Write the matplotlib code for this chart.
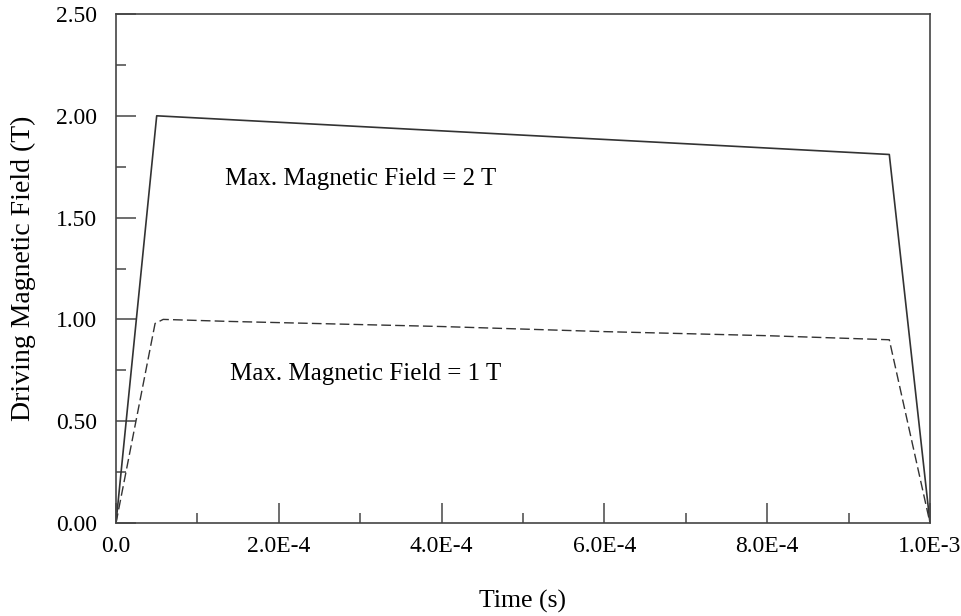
import matplotlib.pyplot as plt
from matplotlib.ticker import MultipleLocator, FixedLocator

# Driving field waveforms (time in s, field in T)
t_2T = [0.0, 5.0e-5, 9.5e-4, 1.0e-3]
b_2T = [0.0, 2.00, 1.81, 0.0]

t_1T = [0.0, 4.8e-5, 5.8e-5, 1.4e-4, 4.0e-4, 6.0e-4, 8.0e-4, 9.5e-4, 1.0e-3]
b_1T = [0.0, 0.98, 1.00, 0.99, 0.965, 0.94, 0.92, 0.90, 0.0]

x_ticks = [0.0, 2.0e-4, 4.0e-4, 6.0e-4, 8.0e-4, 1.0e-3]
x_labels = ['0.0', '2.0E-4', '4.0E-4', '6.0E-4', '8.0E-4', '1.0E-3']

plt.rcParams['font.family'] = ['Liberation Serif', 'DejaVu Serif']

fig = plt.figure(figsize=(9.62, 6.16), dpi=100)
ax = fig.add_axes([116 / 962, 93 / 616, 814 / 962, 509 / 616])

line_col = '#333333'
ax.plot(t_2T, b_2T, color=line_col, lw=1.2)
ax.plot(t_1T, b_1T, color=line_col, lw=1.0, ls=(0, (7, 3)))

ax.set_xlim(0, 1.0e-3)
ax.set_ylim(0, 2.5)

ax.xaxis.set_major_locator(FixedLocator(x_ticks))
ax.set_xticklabels(x_labels)
ax.xaxis.set_minor_locator(MultipleLocator(1.0e-4))
ax.yaxis.set_major_locator(MultipleLocator(0.5))
ax.yaxis.set_minor_locator(MultipleLocator(0.25))
ax.yaxis.set_major_formatter(plt.FuncFormatter(lambda v, p: f'{v:.2f}'))

ax.tick_params(which='both', direction='in', top=False, right=False,
               colors='#555555', labelcolor='black', labelsize=17, width=1.2)
ax.tick_params(which='major', length=14.4)
ax.tick_params(which='minor', length=7.2)
ax.tick_params(axis='y', which='major', pad=13.5)
ax.tick_params(axis='x', which='major', pad=9)

for s in ax.spines.values():
    s.set_color('#444444')
    s.set_linewidth(1.2)

ax.set_xlabel('Time (s)', fontsize=18.5)
ax.xaxis.label.set_va('center')
ax.xaxis.set_label_coords(0.5, (523 - 601) / 509)
ax.set_ylabel('Driving Magnetic Field (T)', fontsize=20)
ax.yaxis.label.set_va('center')
ax.yaxis.set_label_coords((23 - 116) / 814, 0.5)

ax.text(1.34e-4, 1.66, 'Max. Magnetic Field = 2 T', fontsize=18, va='baseline')
ax.text(1.40e-4, 0.70, 'Max. Magnetic Field = 1 T', fontsize=18, va='baseline')

fig.savefig('out.png', dpi=100)
